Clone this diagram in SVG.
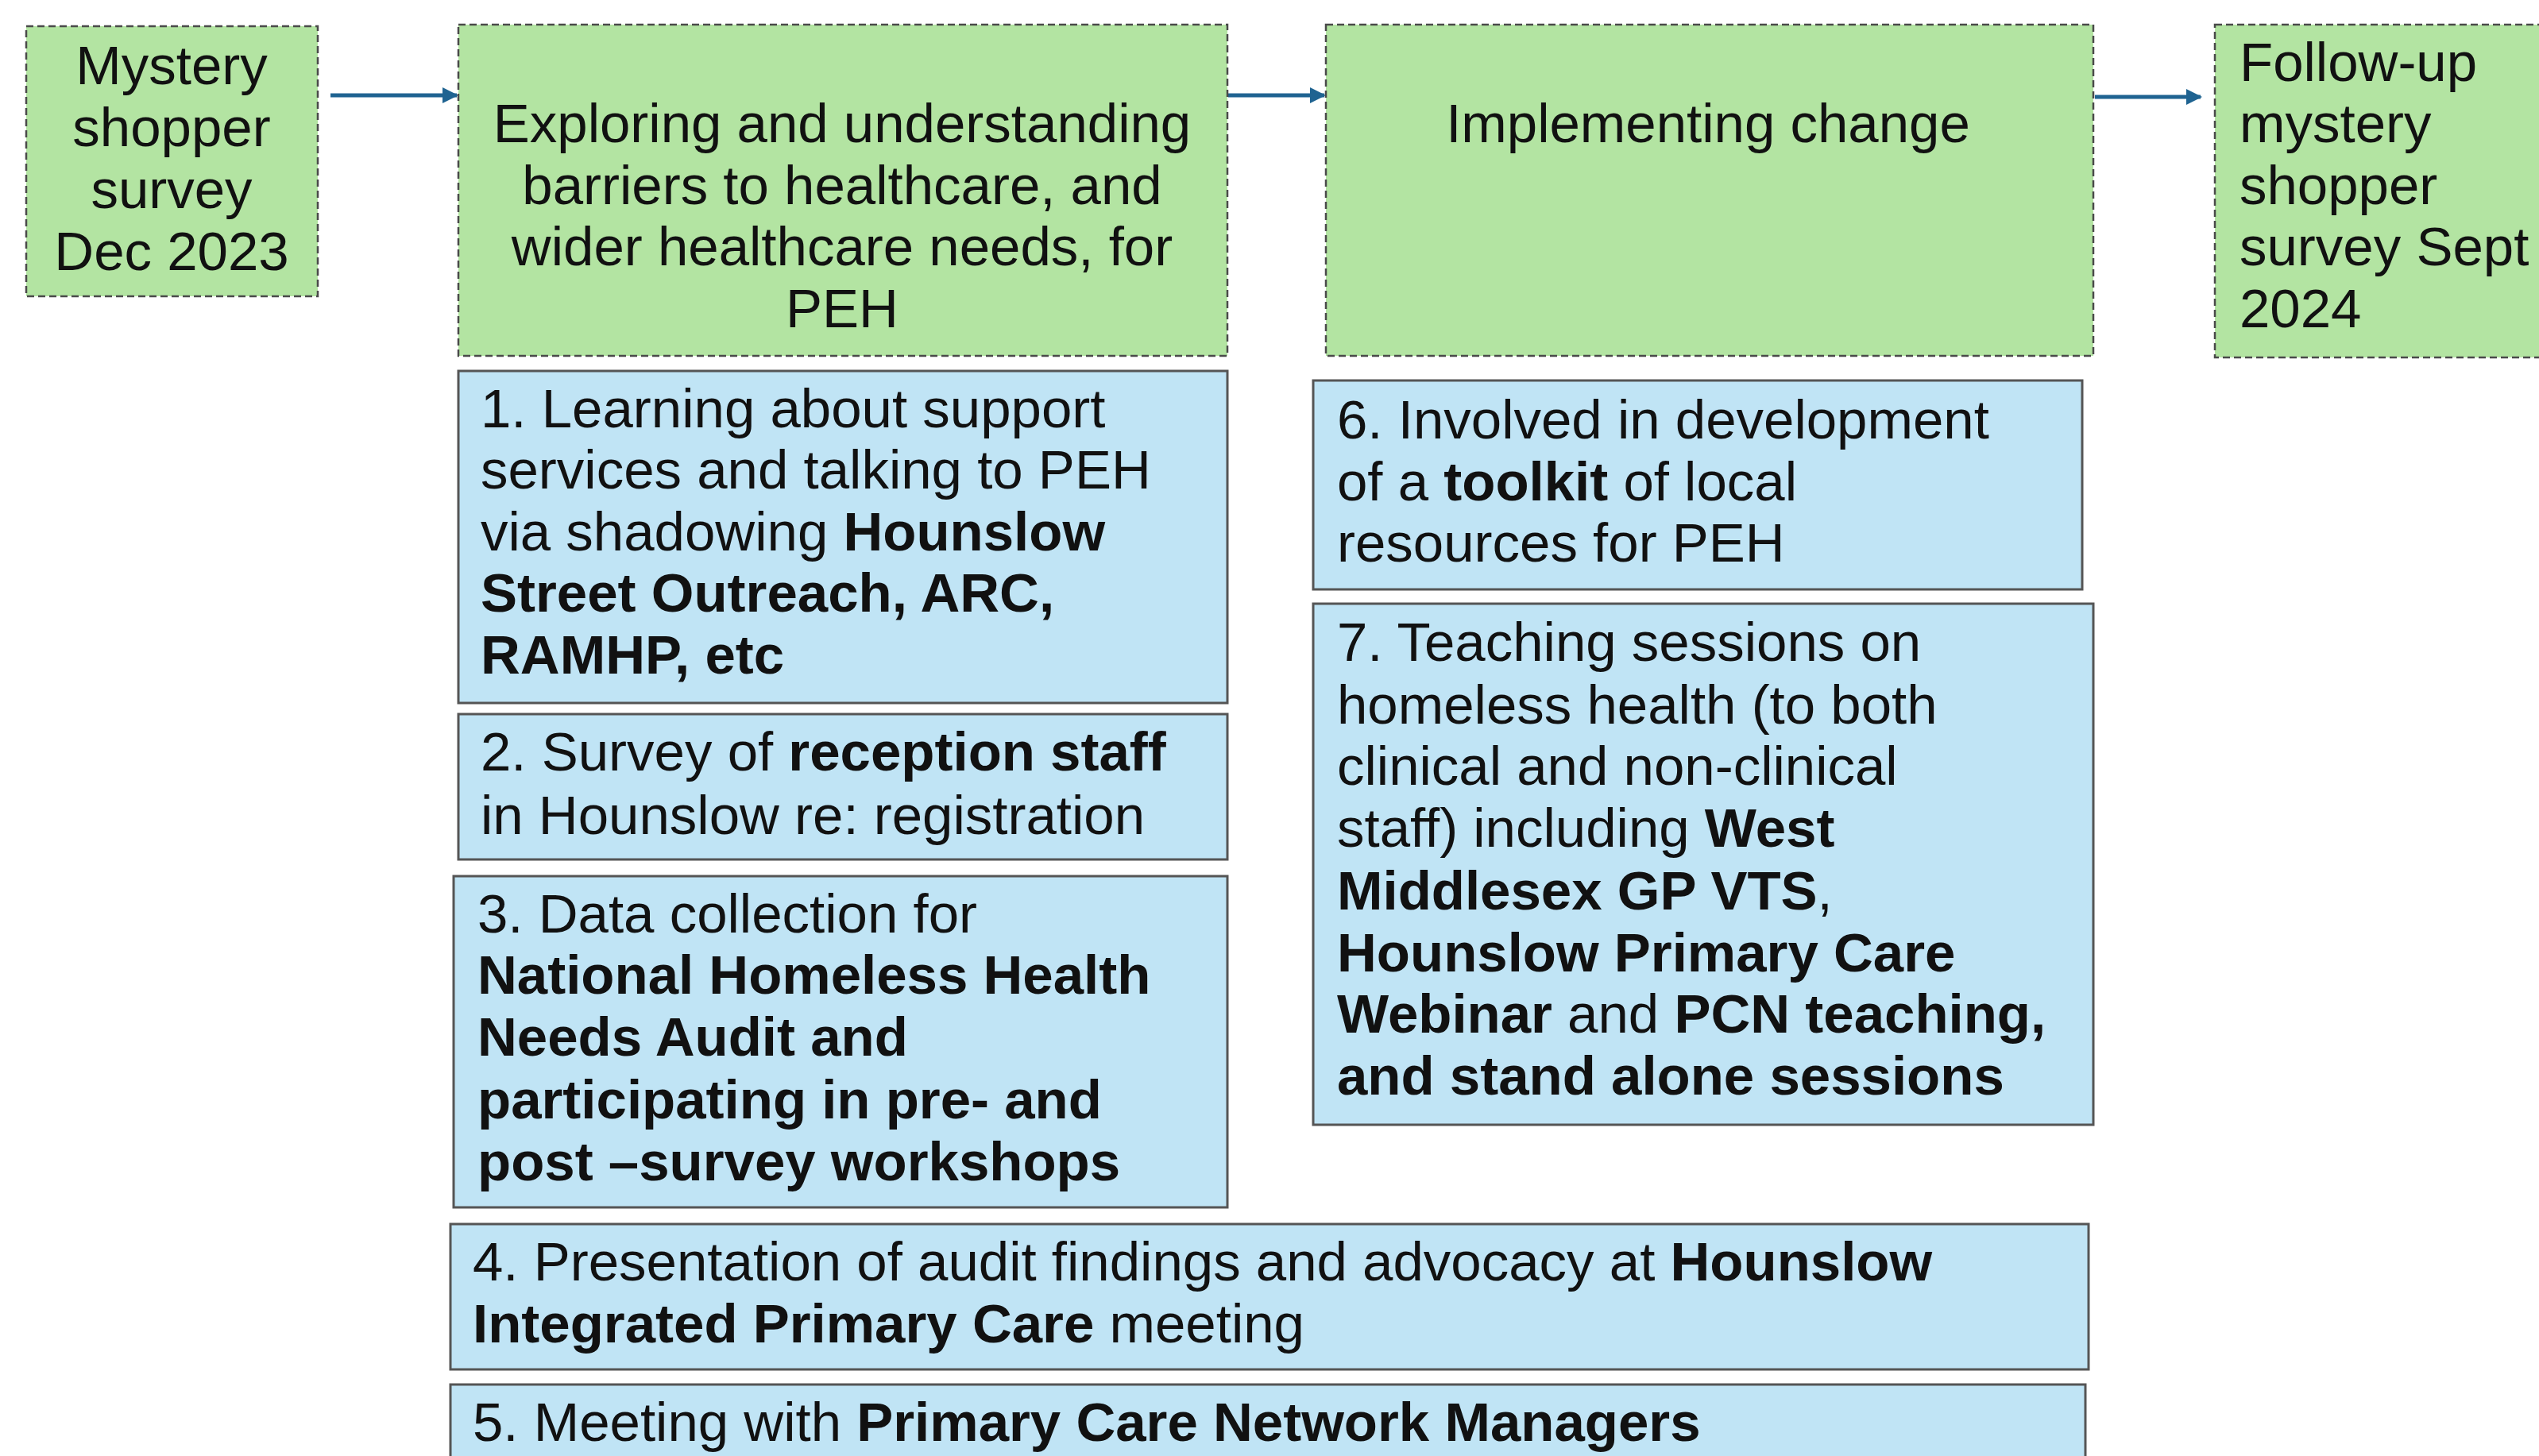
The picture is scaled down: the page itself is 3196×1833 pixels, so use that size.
<svg xmlns="http://www.w3.org/2000/svg" width="3196" height="1833" viewBox="0 0 3196 1833">
<style>
.g{fill:#b3e4a2;stroke:#4a4a4a;stroke-width:2.5;stroke-dasharray:9 5}
.b{fill:#c0e4f5;stroke:#555;stroke-width:3}
text{font-family:"Liberation Sans",Arial,sans-serif;font-size:69px;fill:#111}
.c{text-anchor:middle}
.bd{font-weight:700}
.con{stroke:#1f6391;stroke-width:5;fill:none}
</style>
<defs>
<marker id="ah" viewBox="0 0 10 10" refX="9" refY="5" markerWidth="4" markerHeight="4" orient="auto" markerUnits="strokeWidth">
<path d="M0,0 L10,5 L0,10 z" fill="#1f6391"/>
</marker>
</defs>
<rect width="3196" height="1833" fill="#fff"/>
<g id="connectors">
<line class="con" x1="416" y1="120" x2="575" y2="120" marker-end="url(#ah)"/>
<line class="con" x1="1546" y1="120" x2="1667" y2="120" marker-end="url(#ah)"/>
<line class="con" x1="2637" y1="122" x2="2770" y2="122" marker-end="url(#ah)"/>
</g>
<g id="mystery">
<rect class="g" x="33" y="33" width="367" height="340"/>
<text class="c" x="216" y="106">Mystery</text>
<text class="c" x="216" y="184">shopper</text>
<text class="c" x="216" y="262">survey</text>
<text class="c" x="216" y="340">Dec 2023</text>
</g>
<g id="exploring">
<rect class="g" x="577" y="31" width="968" height="417"/>
<text class="c" x="1060" y="179">Exploring and understanding</text>
<text class="c" x="1060" y="257">barriers to healthcare, and</text>
<text class="c" x="1060" y="334">wider healthcare needs, for</text>
<text class="c" x="1060" y="412">PEH</text>
</g>
<g id="implementing">
<rect class="g" x="1669" y="31" width="966" height="417"/>
<text class="c" x="2150" y="179">Implementing change</text>
</g>
<g id="followup">
<rect class="g" x="2788" y="31" width="430" height="419"/>
<text x="2819" y="102">Follow-up</text>
<text x="2819" y="179">mystery</text>
<text x="2819" y="257">shopper</text>
<text x="2819" y="334">survey Sept</text>
<text x="2819" y="412">2024</text>
</g>
<g id="item1">
<rect class="b" x="577" y="467" width="968" height="418"/>
<text x="605" y="538">1. Learning about support</text>
<text x="605" y="615">services and talking to PEH</text>
<text x="605" y="693">via shadowing <tspan class="bd">Hounslow</tspan></text>
<text x="605" y="770" class="bd">Street Outreach, ARC,</text>
<text x="605" y="848" class="bd">RAMHP, etc</text>
</g>
<g id="item2">
<rect class="b" x="577" y="899" width="968" height="183"/>
<text x="605" y="970">2. Survey of <tspan class="bd">reception staff</tspan></text>
<text x="605" y="1050">in Hounslow re: registration</text>
</g>
<g id="item3">
<rect class="b" x="571" y="1103" width="974" height="417"/>
<text x="601" y="1174">3. Data collection for</text>
<text x="601" y="1251" class="bd">National Homeless Health</text>
<text x="601" y="1329" class="bd">Needs Audit and</text>
<text x="601" y="1408" class="bd">participating in pre- and</text>
<text x="601" y="1486" class="bd">post –survey workshops</text>
</g>
<g id="item4">
<rect class="b" x="567" y="1541" width="2062" height="183"/>
<text x="595" y="1612">4. Presentation of audit findings and advocacy at <tspan class="bd">Hounslow</tspan></text>
<text x="595" y="1690"><tspan class="bd">Integrated Primary Care</tspan> meeting</text>
</g>
<g id="item5">
<rect class="b" x="567" y="1743" width="2058" height="120"/>
<text x="595" y="1814">5. Meeting with <tspan class="bd">Primary Care Network Managers</tspan></text>
</g>
<g id="item6">
<rect class="b" x="1653" y="479" width="968" height="263"/>
<text x="1683" y="552">6. Involved in development</text>
<text x="1683" y="630">of a <tspan class="bd">toolkit</tspan> of local</text>
<text x="1683" y="707">resources for PEH</text>
</g>
<g id="item7">
<rect class="b" x="1653" y="760" width="982" height="656"/>
<text x="1683" y="832">7. Teaching sessions on</text>
<text x="1683" y="911">homeless health (to both</text>
<text x="1683" y="988">clinical and non-clinical</text>
<text x="1683" y="1066">staff) including <tspan class="bd">West</tspan></text>
<text x="1683" y="1145" class="bd">Middlesex GP VTS<tspan font-weight="400">,</tspan></text>
<text x="1683" y="1223" class="bd">Hounslow Primary Care</text>
<text x="1683" y="1300"><tspan class="bd">Webinar</tspan> and <tspan class="bd">PCN teaching,</tspan></text>
<text x="1683" y="1378" class="bd">and stand alone sessions</text>
</g>
</svg>
